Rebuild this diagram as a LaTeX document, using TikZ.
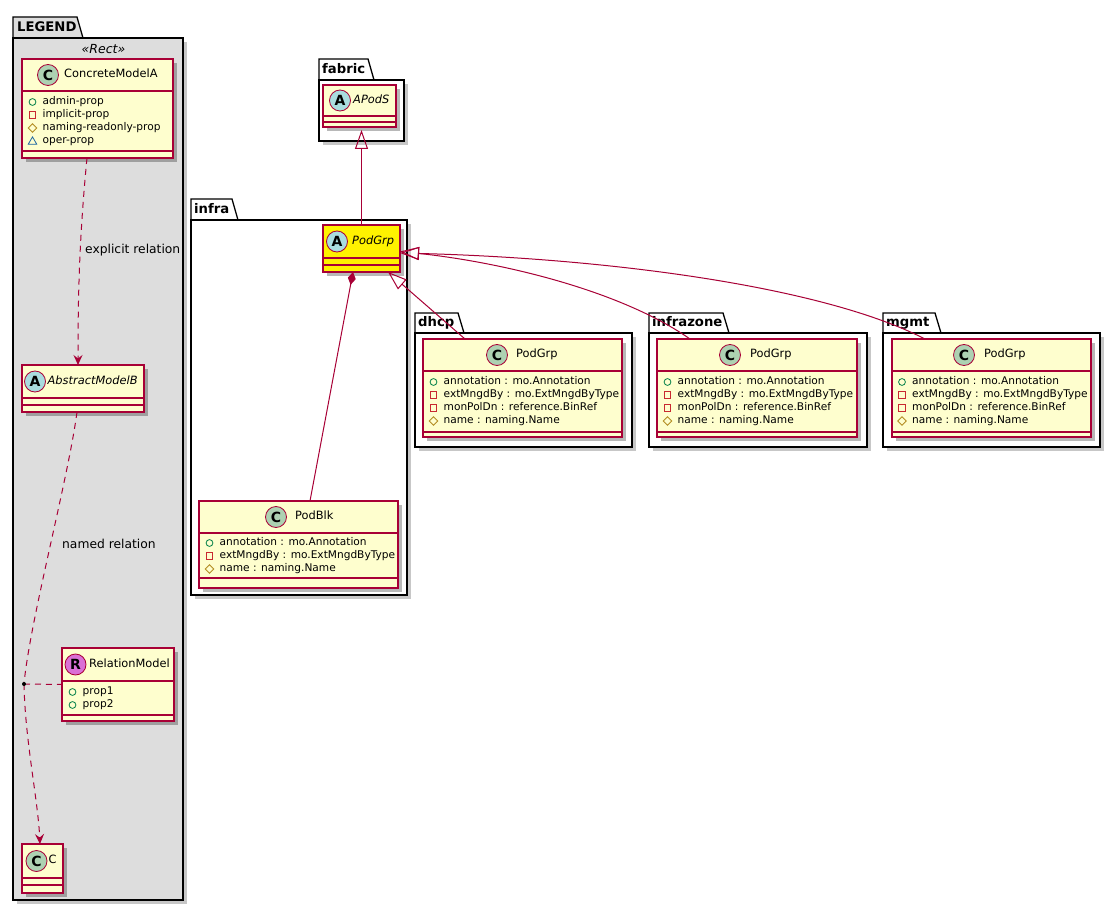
\documentclass[tikz,border=0pt]{standalone}
\usepackage{fontspec}
\setmainfont{DejaVu Sans}
\usetikzlibrary{arrows.meta,shadows,calc}
\definecolor{umlborder}{HTML}{A80036}
\definecolor{umlfill}{HTML}{FEFECE}
\definecolor{legendbg}{HTML}{DDDDDD}
\definecolor{circC}{HTML}{ADD1B2}
\definecolor{circA}{HTML}{A9DCDF}
\definecolor{circR}{HTML}{DA70D6}
\definecolor{vpubc}{HTML}{038048}
\definecolor{vprivc}{HTML}{C82930}
\definecolor{vprotc}{HTML}{B38D22}
\definecolor{vpkgc}{HTML}{1963A0}
\newcommand\fsz[1]{\fontsize{#1}{#1}\selectfont}
\newcommand\vis[3]{%
  \ifcase#1
    \draw[vpubc,line width=.8pt] (#2,#3) circle (3.4pt);
  \or
    \draw[vprivc,line width=.8pt] ({#2-3.3},{#3-3.3}) rectangle ({#2+3.3},{#3+3.3});
  \or
    \draw[vprotc,line width=.8pt] (#2,{#3-4.3}) -- ({#2+4.3},#3) -- (#2,{#3+4.3}) -- ({#2-4.3},#3) -- cycle;
  \or
    \draw[vpkgc,line width=.8pt] ({#2-4.3},{#3+3.3}) -- ({#2+4.3},{#3+3.3}) -- (#2,{#3-4.1}) -- cycle;
  \fi}
% name, type, iconx, textx, y, text
\newcommand\attr[6]{\vis{#2}{#3}{#5}\node[attrtext] (#1) at (#4,#5) {#6};}
% x1 tabtop tabright bodytop x2 y2 fill name
\newcommand\umlpkg[8]{%
  \fill[black,opacity=.22] ({#1+4},{#4+4}) rectangle ({#5+4},{#6+4});
  \filldraw[fill=#7,draw=black,line width=1.3pt] (#1,#4) -- (#1,#2) -- (#3,#2) -- ({#3+6},#4) -- cycle;
  \filldraw[fill=#7,draw=black,line width=1.3pt] (#1,#4) rectangle (#5,#6);
  \coordinate (#8) at (#1,#4);}
\tikzset{
  classbox/.style={draw=umlborder,line width=1.3pt,fill=umlfill,rectangle,inner sep=0pt,outer sep=0pt,
    drop shadow={shadow xshift=4pt,shadow yshift=-4pt,opacity=.28,fill=black}},
  ccirc/.style={circle,draw=umlborder,line width=.8pt,minimum size=21pt,inner sep=0pt,font=\fsz{14}\bfseries},
  cname/.style={anchor=west,inner sep=0pt,font=\fsz{11.4},text height=8.4pt,text depth=2.5pt},
  aname/.style={anchor=west,inner sep=0pt,font=\fsz{11.4}\itshape,text height=8.4pt,text depth=2.5pt},
  attrtext/.style={anchor=west,inner sep=0pt,font=\fsz{10.6},text height=7.8pt,text depth=2.3pt},
  compline/.style={draw=umlborder,line width=1.3pt},
  rel/.style={draw=umlborder,line width=1pt},
  dashrel/.style={rel,dash pattern=on 6pt off 5pt},
  pkgtitle/.style={anchor=west,inner sep=0pt,font=\fsz{13.2}\bfseries,text height=9.6pt,text depth=2.8pt},
  lbl/.style={anchor=west,inner sep=0pt,font=\fsz{12.3},text height=9pt,text depth=2.6pt},
  vee/.tip={Stealth[length=10pt,width=9pt,inset=3.5pt]},
  gen/.tip={Triangle[open,length=19pt,width=13pt]},
  comp/.tip={Diamond[length=13pt,width=8pt]}
}
\begin{document}
\begin{tikzpicture}[x=1pt,y=-1pt]
\fill[white] (0,0) rectangle (1120,912);
\useasboundingbox (0,0) rectangle (1120,912);

% ---------- packages ----------
\umlpkg{13}{17}{77}{38}{183}{900}{legendbg}{pLegend}
\node[pkgtitle] (tLegend) at (17,28) {LEGEND};
\node[inner sep=0pt,font=\fsz{12.5}\itshape] (stRect) at (103.5,49) {«Rect»};

\umlpkg{319}{59}{368}{80}{404}{141}{white}{pFabric}
\node[pkgtitle] (tFabric) at (322,70) {fabric};

\umlpkg{191}{199}{232}{220}{407}{595}{white}{pInfra}
\node[pkgtitle] (tInfra) at (194,210) {infra};

\umlpkg{415}{313}{458}{333}{632}{447}{white}{pDhcp}
\node[pkgtitle] (tDhcp) at (418,323) {dhcp};

\umlpkg{649}{313}{723}{333}{867}{447}{white}{pInfrazone}
\node[pkgtitle] (tInfrazone) at (652,323) {infrazone};

\umlpkg{883}{313}{935}{333}{1100}{447}{white}{pMgmt}
\node[pkgtitle] (tMgmt) at (886,323) {mgmt};

% ---------- legend classes ----------
\node[classbox,minimum width=151pt,minimum height=99pt] (cma) at (97.5,108.5) {};
\draw[compline] (22,91) -- (173,91);
\draw[compline] (22,151) -- (173,151);
\node[ccirc,fill=circC] (cmaC) at (48,75) {C};
\node[cname] (cmaN) at (64,75) {ConcreteModelA};
\attr{cmaA1}{0}{32.5}{42.5}{102}{admin-prop}
\attr{cmaA2}{1}{32.5}{42.5}{115}{implicit-prop}
\attr{cmaA3}{2}{32.5}{42.5}{128}{naming-readonly-prop}
\attr{cmaA4}{3}{32.5}{42.5}{141}{oper-prop}

\node[classbox,minimum width=122pt,minimum height=47pt] (amb) at (83,388.5) {};
\draw[compline] (22,398) -- (144,398);
\draw[compline] (22,405) -- (144,405);
\node[ccirc,fill=circA] (ambC) at (35,381.5) {A};
\node[aname] (ambN) at (47.5,381.5) {AbstractModelB};

\node[classbox,minimum width=112pt,minimum height=73pt] (rm) at (118,684.5) {};
\draw[compline] (62,681) -- (174,681);
\draw[compline] (62,715) -- (174,715);
\node[ccirc,fill=circR] (rmC) at (75.5,664.5) {R};
\node[cname] (rmN) at (89,664.5) {RelationModel};
\attr{rmA1}{0}{72.5}{82.5}{692}{prop1}
\attr{rmA2}{0}{72.5}{82.5}{705}{prop2}

\node[classbox,minimum width=41pt,minimum height=49pt] (cn) at (42.5,868.5) {};
\draw[compline] (22,878) -- (63,878);
\draw[compline] (22,885) -- (63,885);
\node[ccirc,fill=circC] (cnC) at (36.5,861) {C};
\node[cname] (cnN) at (48.5,861) {C};

% ---------- fabric / infra classes ----------
\node[classbox,minimum width=73pt,minimum height=42pt] (apods) at (359.5,106) {};
\draw[compline] (323,116) -- (396,116);
\draw[compline] (323,122) -- (396,122);
\node[ccirc,fill=circA] (apodsC) at (340,100.5) {A};
\node[aname] (apodsN) at (353,100.5) {APodS};

\node[classbox,fill=yellow,minimum width=77pt,minimum height=47pt] (podgrp) at (361.5,248.5) {};
\draw[compline] (323,258) -- (400,258);
\draw[compline] (323,265) -- (400,265);
\node[ccirc,fill=circA] (podgrpC) at (337,241.5) {A};
\node[aname] (podgrpN) at (352,241.5) {PodGrp};

\node[classbox,minimum width=199pt,minimum height=87pt] (podblk) at (298.5,544.5) {};
\draw[compline] (199,533) -- (398,533);
\draw[compline] (199,578) -- (398,578);
\node[ccirc,fill=circC] (podblkC) at (276,517) {C};
\node[cname] (podblkN) at (295,517) {PodBlk};
\attr{pbA1}{0}{209.5}{219.5}{543}{annotation : mo.Annotation}
\attr{pbA2}{1}{209.5}{219.5}{556}{extMngdBy : mo.ExtMngdByType}
\attr{pbA3}{2}{209.5}{219.5}{569}{name : naming.Name}

% ---------- dhcp / infrazone / mgmt classes ----------
\node[classbox,minimum width=199pt,minimum height=98pt] (dpg) at (522.5,388) {};
\draw[compline] (423,371) -- (622,371);
\draw[compline] (423,432) -- (622,432);
\node[ccirc,fill=circC] (dpgC) at (497,355) {C};
\node[cname] (dpgN) at (516,355) {PodGrp};
\attr{dA1}{0}{433.5}{443.5}{382}{annotation : mo.Annotation}
\attr{dA2}{1}{433.5}{443.5}{395}{extMngdBy : mo.ExtMngdByType}
\attr{dA3}{1}{433.5}{443.5}{408}{monPolDn : reference.BinRef}
\attr{dA4}{2}{433.5}{443.5}{421}{name : naming.Name}

\node[classbox,minimum width=200pt,minimum height=98pt] (ipg) at (757,388) {};
\draw[compline] (657,371) -- (857,371);
\draw[compline] (657,432) -- (857,432);
\node[ccirc,fill=circC] (ipgC) at (730,355) {C};
\node[cname] (ipgN) at (750,355) {PodGrp};
\attr{iA1}{0}{667.5}{677.5}{382}{annotation : mo.Annotation}
\attr{iA2}{1}{667.5}{677.5}{395}{extMngdBy : mo.ExtMngdByType}
\attr{iA3}{1}{667.5}{677.5}{408}{monPolDn : reference.BinRef}
\attr{iA4}{2}{667.5}{677.5}{421}{name : naming.Name}

\node[classbox,minimum width=199pt,minimum height=98pt] (mpg) at (991.5,388) {};
\draw[compline] (892,371) -- (1091,371);
\draw[compline] (892,432) -- (1091,432);
\node[ccirc,fill=circC] (mpgC) at (964,355) {C};
\node[cname] (mpgN) at (984,355) {PodGrp};
\attr{mA1}{0}{902}{912}{382}{annotation : mo.Annotation}
\attr{mA2}{1}{902}{912}{395}{extMngdBy : mo.ExtMngdByType}
\attr{mA3}{1}{902}{912}{408}{monPolDn : reference.BinRef}
\attr{mA4}{2}{902}{912}{421}{name : naming.Name}

% ---------- legend relations ----------
\coordinate (reldot) at (24,684);
\draw[dashrel,-{vee}] ($(cma.south west)+(65,0)$) .. controls (79,240) and (78,300) .. ($(amb.north west)+(56,0)$);
\node[lbl] (lExplicit) at (85,250) {explicit relation};
\draw[dashrel] ($(amb.south west)+(55,0)$) .. controls (68,480) and (30,620) .. (reldot);
\draw[dashrel,-{vee}] (reldot) .. controls (25,740) and (38,800) .. ($(cn.north)+(-2.5,0)$);
\draw[dashrel] (reldot) -- (rm.west);
\fill[black] (reldot) circle (2pt);
\node[lbl] (lNamed) at (62,545) {named relation};

% ---------- model relations ----------
\draw[rel,-{gen},shorten >=3pt] (podgrp.north) -- (podgrp.north |- apods.south);
\draw[rel,{comp}-] ($(podgrp.south west)+(30,0)$) -- ($(podblk.north west)+(111,0)$);
\draw[rel,{gen}-] ($(podgrp.south east)+(-12,0)$) -- ($(dpg.north west)+(42,0)$);
\draw[rel,{gen}-] ($(podgrp.east)+(0,3)$) .. controls (500,262) and (620,290) .. ($(ipg.north west)+(33,0)$);
\draw[rel,{gen}-] ($(podgrp.east)+(0,4.5)$) .. controls (600,258) and (820,285) .. ($(mpg.north west)+(33,0)$);
\end{tikzpicture}
\end{document}
